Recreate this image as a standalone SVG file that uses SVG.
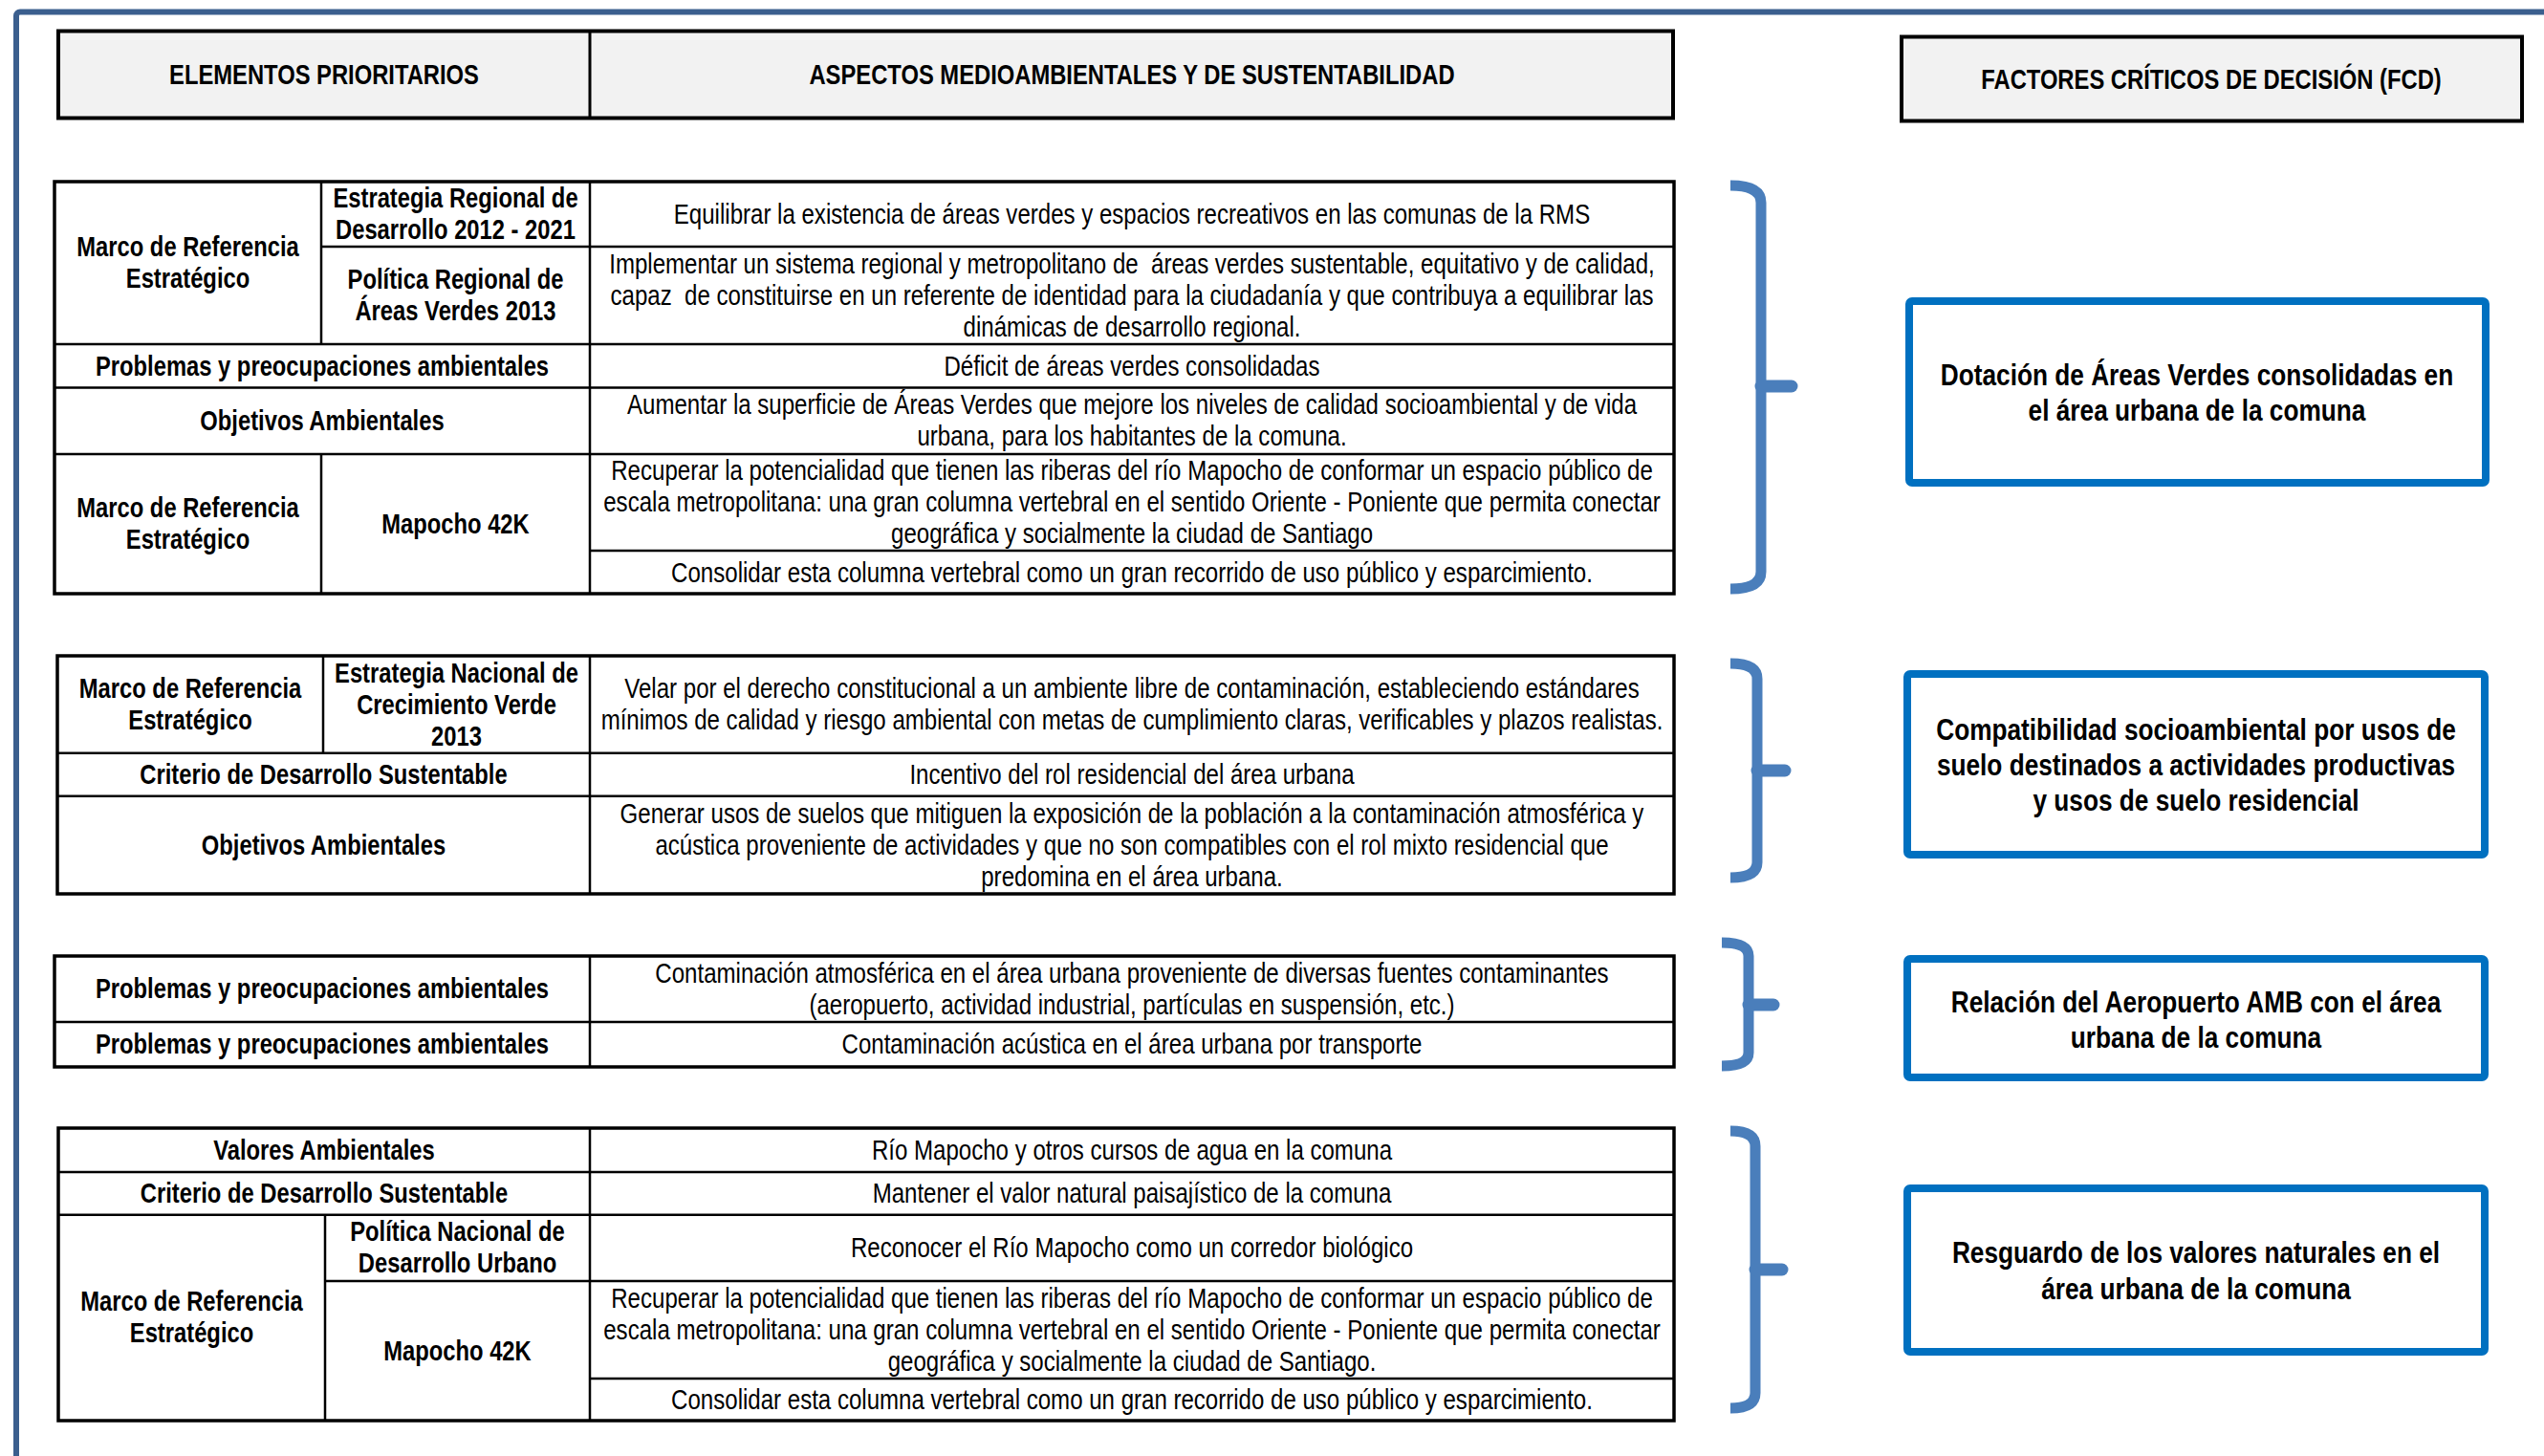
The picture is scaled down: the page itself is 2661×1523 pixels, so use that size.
<svg xmlns="http://www.w3.org/2000/svg" width="2661" height="1523" viewBox="0 0 2661 1523">
<style>
text{font-family:'Liberation Sans',Arial,sans-serif;text-anchor:middle;fill:#000}
.b{font-weight:bold;font-size:29px}
.r{font-weight:normal;font-size:29px}
.f{font-weight:bold;font-size:32px}
.hdr{fill:#F2F2F2;stroke:#000;stroke-width:4}
.tb{fill:#fff;stroke:#000;stroke-width:3.5}
.ln{stroke:#000;stroke-width:2.5;fill:none}
.br{fill:none;stroke:#4A7EBB;stroke-width:11}
.nub{fill:none;stroke:#4A7EBB;stroke-width:13;stroke-linecap:round}
.fcd{fill:#fff;stroke:#0070C0;stroke-width:8}
</style>
<rect width="2661" height="1523" fill="#fff"/>
<rect id="frame" x="17" y="12.5" width="2700" height="1600" rx="4" fill="none" stroke="#3B5F8E" stroke-width="6"/>

<g id="header-left">
<rect class="hdr" x="61" y="32.5" width="1689" height="91"/>
<line class="ln" x1="617" y1="32.5" x2="617" y2="123.5" style="stroke-width:3"/>
<text class="b" transform="matrix(.82 0 0 1 339 0)" y="88">ELEMENTOS PRIORITARIOS</text>
<text class="b" transform="matrix(.82 0 0 1 1184 0)" y="88">ASPECTOS MEDIOAMBIENTALES Y DE SUSTENTABILIDAD</text>
</g>
<g id="header-fcd">
<rect class="hdr" x="1989" y="38.5" width="649" height="88"/>
<text class="b" transform="matrix(.82 0 0 1 2313 0)" y="93">FACTORES CRÍTICOS DE DECISIÓN (FCD)</text>
</g>

<g id="table1">
<rect class="tb" x="57" y="190" width="1694" height="431"/>
<path class="ln" d="M336,258H1751M57,360H1751M57,405.5H1751M57,475H1751M617,576H1751M617,190V621M336,190V360M336,475V621"/>
<text class="b" transform="matrix(.82 0 0 1 196.5 0)" y="268.5">Marco de Referencia</text>
<text class="b" transform="matrix(.82 0 0 1 196.5 0)" y="301.5">Estratégico</text>
<text class="b" transform="matrix(.82 0 0 1 476.5 0)" y="217.5">Estrategia Regional de</text>
<text class="b" transform="matrix(.82 0 0 1 476.5 0)" y="250.5">Desarrollo 2012 - 2021</text>
<text class="b" transform="matrix(.82 0 0 1 476.5 0)" y="302.5">Política Regional de</text>
<text class="b" transform="matrix(.82 0 0 1 476.5 0)" y="335.5">Áreas Verdes 2013</text>
<text class="b" transform="matrix(.82 0 0 1 337 0)" y="393">Problemas y preocupaciones ambientales</text>
<text class="b" transform="matrix(.82 0 0 1 337 0)" y="450">Objetivos Ambientales</text>
<text class="b" transform="matrix(.82 0 0 1 196.5 0)" y="541.5">Marco de Referencia</text>
<text class="b" transform="matrix(.82 0 0 1 196.5 0)" y="574.5">Estratégico</text>
<text class="b" transform="matrix(.82 0 0 1 476.5 0)" y="558">Mapocho 42K</text>
<text class="r" transform="matrix(.83 0 0 1 1184 0)" y="234">Equilibrar la existencia de áreas verdes y espacios recreativos en las comunas de la RMS</text>
<text class="r" transform="matrix(.83 0 0 1 1184 0)" y="286" xml:space="preserve">Implementar un sistema regional y metropolitano de  áreas verdes sustentable, equitativo y de calidad,</text>
<text class="r" transform="matrix(.83 0 0 1 1184 0)" y="319" xml:space="preserve">capaz  de constituirse en un referente de identidad para la ciudadanía y que contribuya a equilibrar las</text>
<text class="r" transform="matrix(.83 0 0 1 1184 0)" y="352">dinámicas de desarrollo regional.</text>
<text class="r" transform="matrix(.83 0 0 1 1184 0)" y="393">Déficit de áreas verdes consolidadas</text>
<text class="r" transform="matrix(.83 0 0 1 1184 0)" y="433.5">Aumentar la superficie de Áreas Verdes que mejore los niveles de calidad socioambiental y de vida</text>
<text class="r" transform="matrix(.83 0 0 1 1184 0)" y="466.5">urbana, para los habitantes de la comuna.</text>
<text class="r" transform="matrix(.83 0 0 1 1184 0)" y="502.5">Recuperar la potencialidad que tienen las riberas del río Mapocho de conformar un espacio público de</text>
<text class="r" transform="matrix(.83 0 0 1 1184 0)" y="535.5">escala metropolitana: una gran columna vertebral en el sentido Oriente - Poniente que permita conectar</text>
<text class="r" transform="matrix(.83 0 0 1 1184 0)" y="568.5">geográfica y socialmente la ciudad de Santiago</text>
<text class="r" transform="matrix(.83 0 0 1 1184 0)" y="609">Consolidar esta columna vertebral como un gran recorrido de uso público y esparcimiento.</text>
</g>

<g id="table2">
<rect class="tb" x="60" y="686" width="1691" height="249"/>
<path class="ln" d="M60,787.7H1751M60,832.7H1751M617,686V935M338,686V787.7"/>
<text class="b" transform="matrix(.82 0 0 1 199 0)" y="730.5">Marco de Referencia</text>
<text class="b" transform="matrix(.82 0 0 1 199 0)" y="763.5">Estratégico</text>
<text class="b" transform="matrix(.82 0 0 1 477.5 0)" y="714">Estrategia Nacional de</text>
<text class="b" transform="matrix(.82 0 0 1 477.5 0)" y="747">Crecimiento Verde</text>
<text class="b" transform="matrix(.82 0 0 1 477.5 0)" y="780">2013</text>
<text class="b" transform="matrix(.82 0 0 1 338.5 0)" y="820">Criterio de Desarrollo Sustentable</text>
<text class="b" transform="matrix(.82 0 0 1 338.5 0)" y="894">Objetivos Ambientales</text>
<text class="r" transform="matrix(.83 0 0 1 1184 0)" y="730.5">Velar por el derecho constitucional a un ambiente libre de contaminación, estableciendo estándares</text>
<text class="r" transform="matrix(.83 0 0 1 1184 0)" y="763.5">mínimos de calidad y riesgo ambiental con metas de cumplimiento claras, verificables y plazos realistas.</text>
<text class="r" transform="matrix(.83 0 0 1 1184 0)" y="820">Incentivo del rol residencial del área urbana</text>
<text class="r" transform="matrix(.83 0 0 1 1184 0)" y="861.5">Generar usos de suelos que mitiguen la exposición de la población a la contaminación atmosférica y</text>
<text class="r" transform="matrix(.83 0 0 1 1184 0)" y="894.5">acústica proveniente de actividades y que no son compatibles con el rol mixto residencial que</text>
<text class="r" transform="matrix(.83 0 0 1 1184 0)" y="927.5">predomina en el área urbana.</text>
</g>

<g id="table3">
<rect class="tb" x="57" y="1000" width="1694" height="116"/>
<path class="ln" d="M57,1069H1751M617,1000V1116"/>
<text class="b" transform="matrix(.82 0 0 1 337 0)" y="1044.5">Problemas y preocupaciones ambientales</text>
<text class="b" transform="matrix(.82 0 0 1 337 0)" y="1102.5">Problemas y preocupaciones ambientales</text>
<text class="r" transform="matrix(.83 0 0 1 1184 0)" y="1028">Contaminación atmosférica en el área urbana proveniente de diversas fuentes contaminantes</text>
<text class="r" transform="matrix(.83 0 0 1 1184 0)" y="1061">(aeropuerto, actividad industrial, partículas en suspensión, etc.)</text>
<text class="r" transform="matrix(.83 0 0 1 1184 0)" y="1102.5">Contaminación acústica en el área urbana por transporte</text>
</g>

<g id="table4">
<rect class="tb" x="61" y="1180" width="1690" height="306"/>
<path class="ln" d="M61,1226H1751M61,1270.7H1751M340,1340H1751M617,1442H1751M617,1180V1486M340,1270.7V1486"/>
<text class="b" transform="matrix(.82 0 0 1 339 0)" y="1213">Valores Ambientales</text>
<text class="b" transform="matrix(.82 0 0 1 339 0)" y="1258">Criterio de Desarrollo Sustentable</text>
<text class="b" transform="matrix(.82 0 0 1 200.5 0)" y="1371.5">Marco de Referencia</text>
<text class="b" transform="matrix(.82 0 0 1 200.5 0)" y="1404.5">Estratégico</text>
<text class="b" transform="matrix(.82 0 0 1 478.5 0)" y="1298.5">Política Nacional de</text>
<text class="b" transform="matrix(.82 0 0 1 478.5 0)" y="1331.5">Desarrollo Urbano</text>
<text class="b" transform="matrix(.82 0 0 1 478.5 0)" y="1423">Mapocho 42K</text>
<text class="r" transform="matrix(.83 0 0 1 1184 0)" y="1213">Río Mapocho y otros cursos de agua en la comuna</text>
<text class="r" transform="matrix(.83 0 0 1 1184 0)" y="1258">Mantener el valor natural paisajístico de la comuna</text>
<text class="r" transform="matrix(.83 0 0 1 1184 0)" y="1315">Reconocer el Río Mapocho como un corredor biológico</text>
<text class="r" transform="matrix(.83 0 0 1 1184 0)" y="1368">Recuperar la potencialidad que tienen las riberas del río Mapocho de conformar un espacio público de</text>
<text class="r" transform="matrix(.83 0 0 1 1184 0)" y="1401">escala metropolitana: una gran columna vertebral en el sentido Oriente - Poniente que permita conectar</text>
<text class="r" transform="matrix(.83 0 0 1 1184 0)" y="1434">geográfica y socialmente la ciudad de Santiago.</text>
<text class="r" transform="matrix(.83 0 0 1 1184 0)" y="1474">Consolidar esta columna vertebral como un gran recorrido de uso público y esparcimiento.</text>
</g>

<g id="connectors">
<path class="br" d="M1810,194Q1842,194 1842,212V598Q1842,616 1810,616"/>
<path class="nub" d="M1842,404H1874"/>
<path class="br" d="M1810,694Q1838,694 1838,710V902Q1838,918 1810,918"/>
<path class="nub" d="M1838,806H1867"/>
<path class="br" d="M1801,986Q1829,986 1829,1000V1101Q1829,1115 1801,1115"/>
<path class="nub" d="M1829,1051H1855"/>
<path class="br" d="M1810,1183Q1836,1183 1836,1199V1457Q1836,1473 1810,1473"/>
<path class="nub" d="M1836,1328H1864"/>
</g>

<g id="fcd1">
<rect class="fcd" x="1997" y="315" width="603" height="190" rx="3"/>
<text class="f" transform="matrix(.82 0 0 1 2298 0)" y="403">Dotación de Áreas Verdes consolidadas en</text>
<text class="f" transform="matrix(.82 0 0 1 2298 0)" y="440">el área urbana de la comuna</text>
</g>
<g id="fcd2">
<rect class="fcd" x="1995" y="705" width="604" height="189" rx="3"/>
<text class="f" transform="matrix(.82 0 0 1 2297 0)" y="774">Compatibilidad socioambiental por usos de</text>
<text class="f" transform="matrix(.82 0 0 1 2297 0)" y="811">suelo destinados a actividades productivas</text>
<text class="f" transform="matrix(.82 0 0 1 2297 0)" y="848">y usos de suelo residencial</text>
</g>
<g id="fcd3">
<rect class="fcd" x="1995" y="1003" width="604" height="124" rx="3"/>
<text class="f" transform="matrix(.82 0 0 1 2297 0)" y="1059">Relación del Aeropuerto AMB con el área</text>
<text class="f" transform="matrix(.82 0 0 1 2297 0)" y="1096">urbana de la comuna</text>
</g>
<g id="fcd4">
<rect class="fcd" x="1995" y="1243" width="604" height="171" rx="3"/>
<text class="f" transform="matrix(.82 0 0 1 2297 0)" y="1321">Resguardo de los valores naturales en el</text>
<text class="f" transform="matrix(.82 0 0 1 2297 0)" y="1359">área urbana de la comuna</text>
</g>
</svg>
